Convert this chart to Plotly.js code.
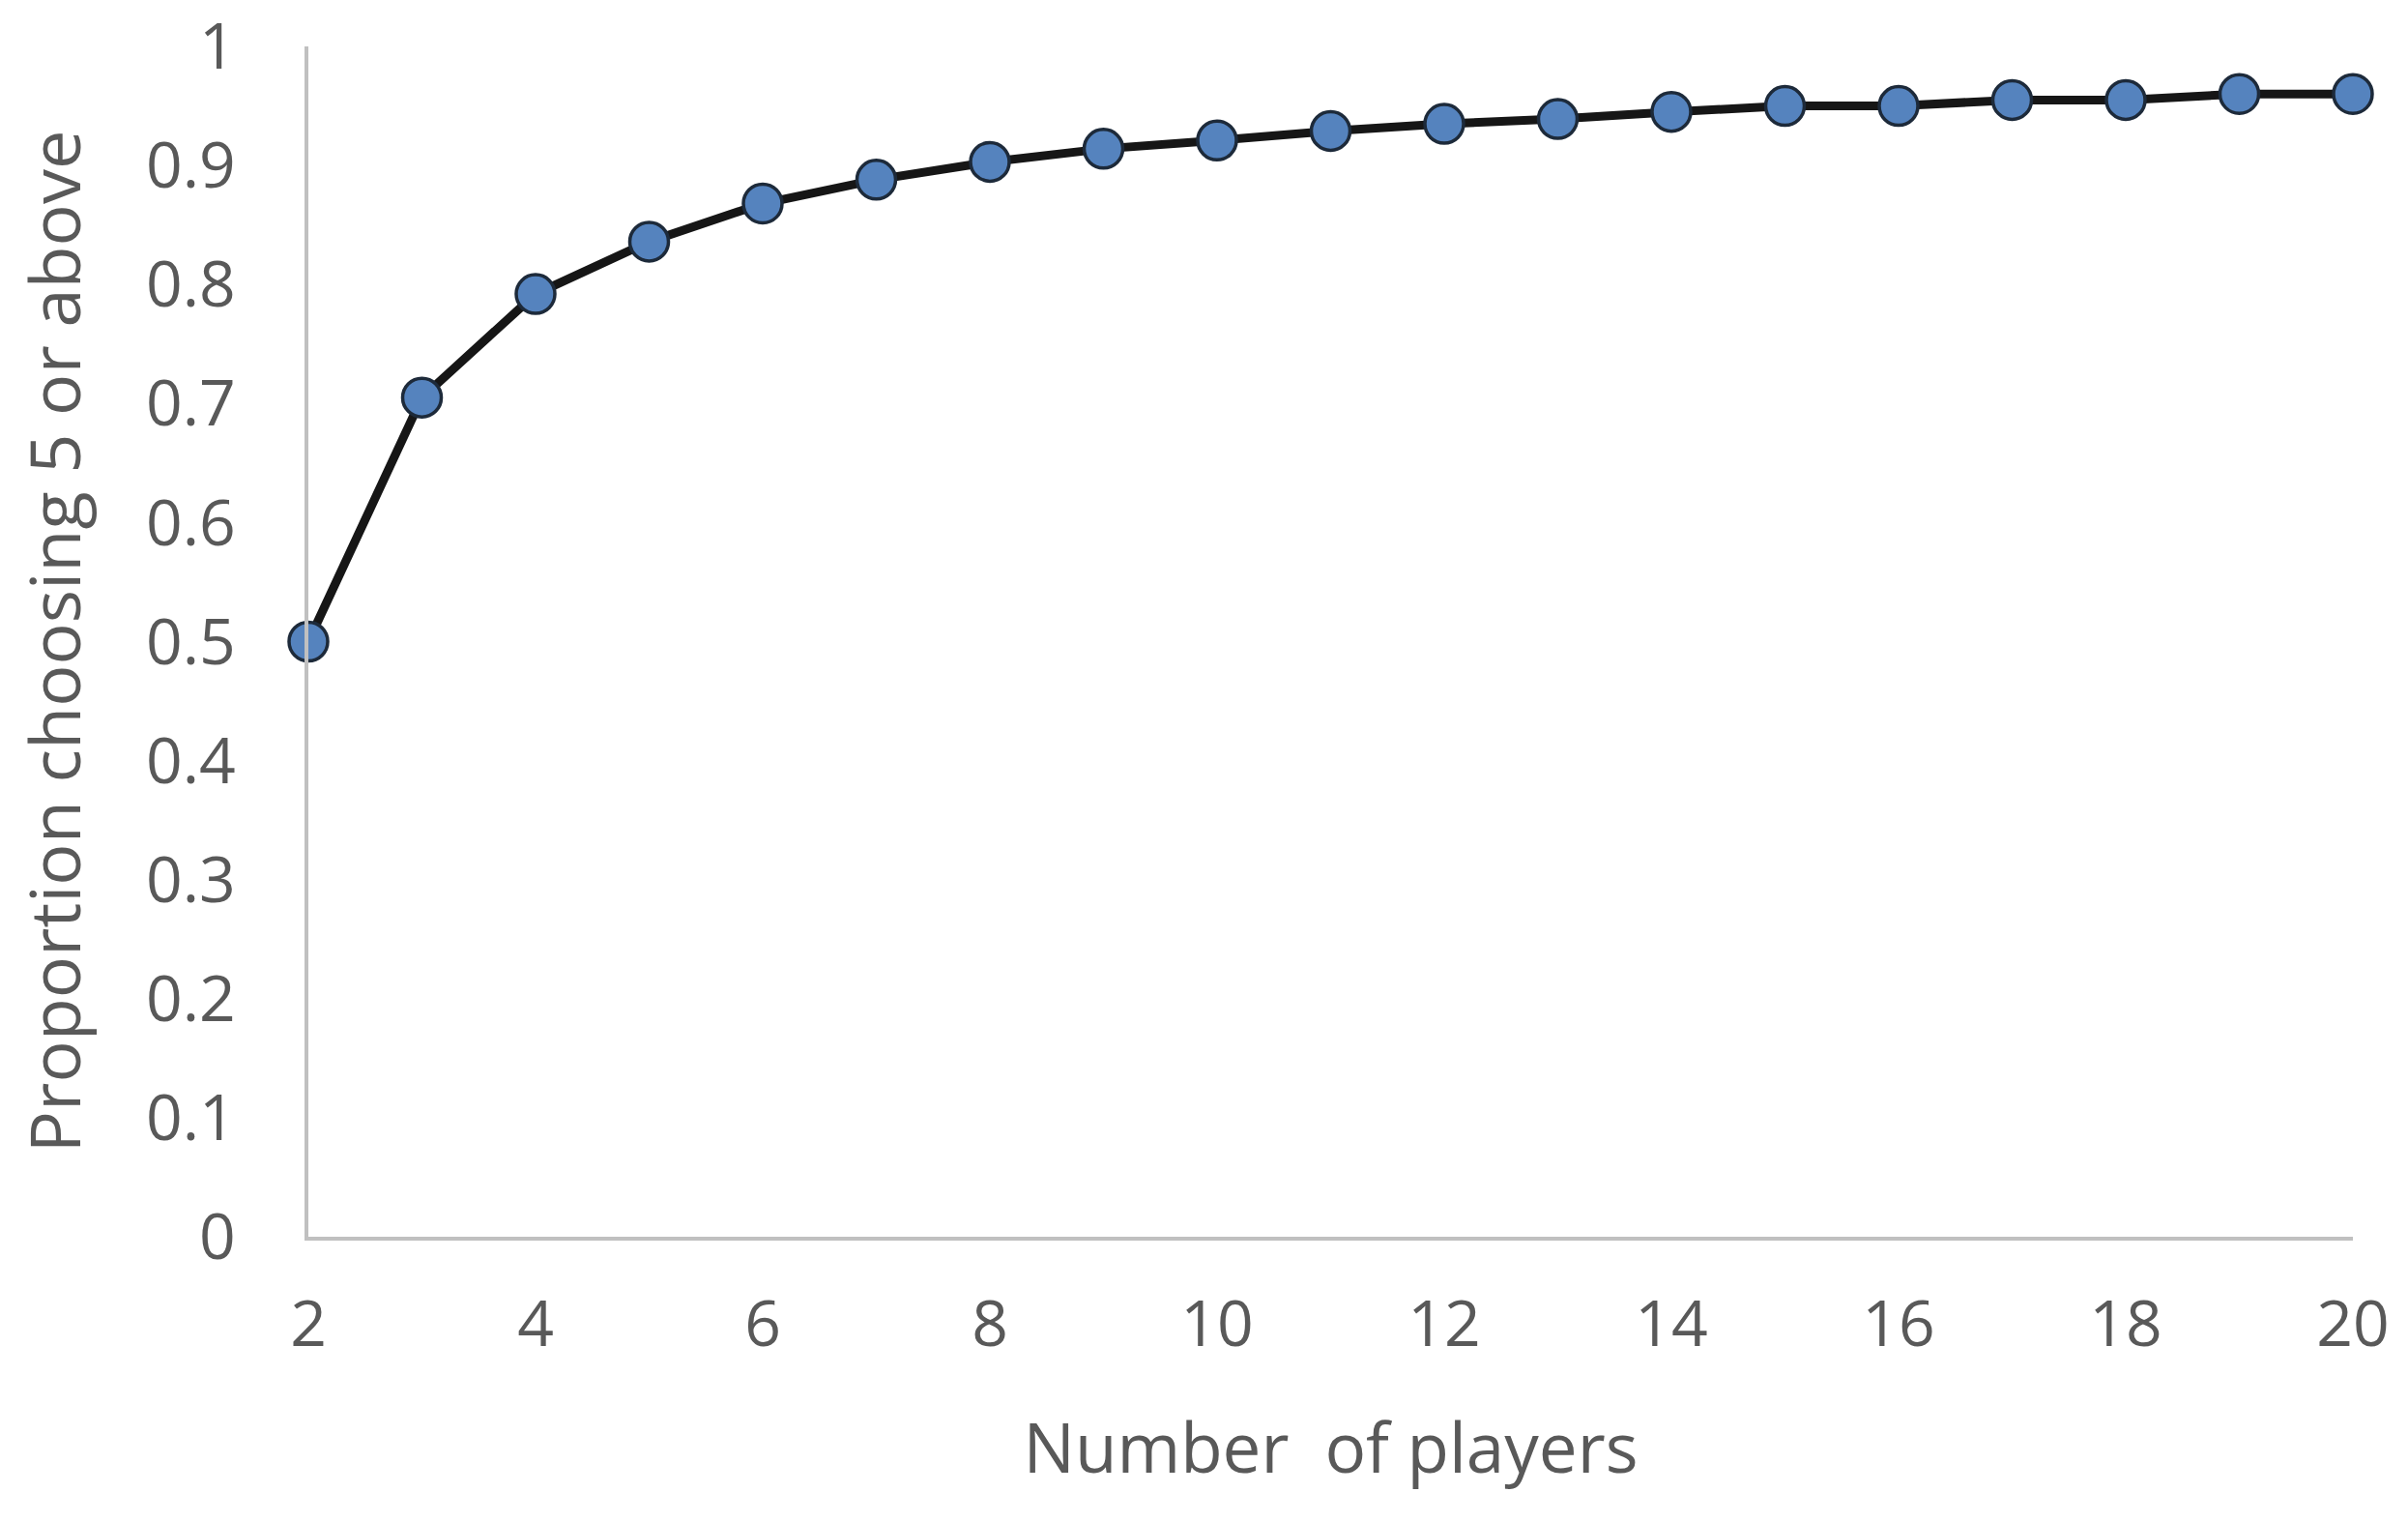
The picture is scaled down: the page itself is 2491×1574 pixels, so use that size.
<!DOCTYPE html>
<html>
<head>
<meta charset="utf-8">
<script src="https://cdn.plot.ly/plotly-3.0.1.min.js"></script>
<style>
  html, body { margin: 0; padding: 0; background: #ffffff; }
  #chart { width: 2491px; height: 1574px; }
</style>
</head>
<body>
<div id="chart"></div>
<script>
// Data
const players = [2, 3, 4, 5, 6, 7, 8, 9, 10, 11, 12, 13, 14, 15, 16, 17, 18, 19, 20];
const proportion = [0.5, 0.705, 0.792, 0.836, 0.868, 0.888, 0.903, 0.914, 0.921, 0.929, 0.935, 0.939, 0.945, 0.95, 0.95, 0.955, 0.955, 0.96, 0.96];

const xTickVals = [2, 4, 6, 8, 10, 12, 14, 16, 18, 20];
const yTickVals = [0, 0.1, 0.2, 0.3, 0.4, 0.5, 0.6, 0.7, 0.8, 0.9, 1];
const yTickText = ['0', '0.1', '0.2', '0.3', '0.4', '0.5', '0.6', '0.7', '0.8', '0.9', '1'];

const xTitle = 'Number\u00a0 of players';
const yTitle = 'Proportion choosing 5 or above';

const fontFamily = '"Open Sans", "DejaVu Sans", sans-serif';
const textColor = '#595959';

const trace = {
  x: players,
  y: proportion,
  type: 'scatter',
  mode: 'lines+markers',
  line: { color: '#161616', width: 9 },
  marker: { color: '#5583be', size: 40, line: { color: '#1d2a3a', width: 3.5 } },
  cliponaxis: false,
  hoverinfo: 'x+y'
};

const layout = {
  width: 2491,
  height: 1574,
  paper_bgcolor: '#ffffff',
  plot_bgcolor: '#ffffff',
  showlegend: false,
  margin: { l: 319, r: 57, t: 48, b: 295, pad: 0 },
  font: { family: fontFamily, color: textColor, size: 66 },
  xaxis: {
    range: [2, 20],
    tickvals: xTickVals,
    ticks: '',
    showgrid: false,
    zeroline: false,
    showline: true,
    linecolor: '#c0c0c0',
    linewidth: 4,
    ticklabelstandoff: 30,
    tickfont: { family: fontFamily, size: 66, color: textColor },
    title: { text: xTitle, font: { family: fontFamily, size: 71, color: textColor }, standoff: 64 },
    automargin: false
  },
  yaxis: {
    range: [0, 1],
    tickvals: yTickVals,
    ticktext: yTickText,
    ticks: '',
    showgrid: false,
    zeroline: false,
    showline: true,
    linecolor: '#c0c0c0',
    linewidth: 4,
    ticklabelstandoff: 58,
    tickfont: { family: fontFamily, size: 66, color: textColor },
    title: { text: yTitle, font: { family: fontFamily, size: 72, color: textColor }, standoff: 45 },
    automargin: false
  }
};

Plotly.newPlot('chart', [trace], layout, { displayModeBar: false, staticPlot: true });
</script>
</body>
</html>
